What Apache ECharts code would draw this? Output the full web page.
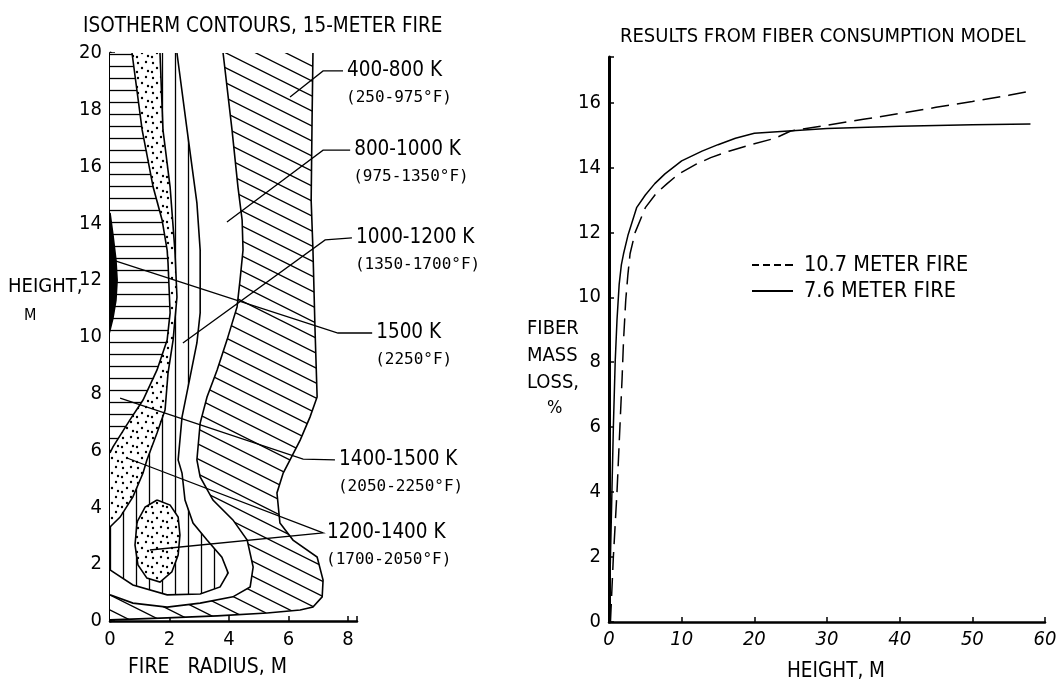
<!DOCTYPE html>
<html>
<head>
<meta charset="utf-8">
<script src="https://cdn.jsdelivr.net/npm/echarts@6.0.0/dist/echarts.min.js"></script>
<style>
  html, body { margin: 0; padding: 0; background: #fff; }
  #main { width: 1060px; height: 689px; }
</style>
</head>
<body>
<div id="main"></div>
<script>
const FONT = "'DejaVu Sans Condensed', 'Liberation Sans Narrow', sans-serif";
const MONO = "'DejaVu Sans Mono', monospace";

// ---- left panel: isotherm boundaries, [radius m, height m] ----
const edge400 = [[6.82,20],[6.79,17.64],[6.76,14.8],[6.82,13.06],[6.89,10.25],[6.96,7.89],[6.72,7.18],[6.39,6.37],[6.05,5.67],[5.82,5.21],[5.61,4.51],[5.71,3.45],[6.15,2.85],[6.96,2.25],[7.16,1.44],[7.13,0.85],[6.82,0.49],[6.39,0.39],[5.28,0.28],[3.6,0.18],[1.92,0.11],[0,0.04]];
const edge800 = [[3.8,20],[4.1,17.29],[4.3,15.28],[4.44,14.12],[4.47,13.06],[4.37,12.01],[4.27,11.06],[3.93,9.89],[3.6,8.84],[3.26,7.89],[3.03,6.97],[2.92,5.67],[3.03,5.07],[3.46,4.26],[4.13,3.56],[4.61,2.85],[4.81,1.9],[4.71,1.2],[4.13,0.85],[3.03,0.63],[1.92,0.49],[0.77,0.63],[0,0.92]];
const edge1000 = [[2.25,20],[2.59,17.29],[2.92,14.72],[3.03,13.06],[3.03,10.85],[2.92,9.79],[2.69,8.59],[2.42,7.18],[2.29,5.67],[2.42,5.21],[2.52,4.26],[2.79,3.45],[3.26,2.85],[3.76,2.25],[3.97,1.69],[3.7,1.2],[3.03,0.95],[1.92,0.92],[0.77,1.27],[0,1.8]];
const oval1200 = [[1.58,4.26],[2.02,4.08],[2.29,3.66],[2.35,3.03],[2.29,2.32],[2.08,1.73],[1.68,1.37],[1.24,1.51],[0.94,1.97],[0.84,2.68],[0.91,3.49],[1.18,4.01]];
const edge1200 = [[1.68,20],[1.78,17.29],[2.02,15.28],[2.18,13.06],[2.25,11.41],[2.12,9.89],[1.95,8.73],[1.85,7.43],[1.58,6.62],[1.24,5.67],[1.11,5.21],[0.77,4.37],[0.34,3.66],[0,3.31]];
const edge1400 = [[0.74,20],[1.08,17.29],[1.45,15.28],[1.75,14.12],[1.92,13.06],[1.95,12.61],[2.02,10.85],[1.92,9.89],[1.58,8.84],[1.11,7.78],[0.67,7.08],[0.1,6.13],[0,5.92]];
const edge1500 = [[0,14.37],[0.1,13.59],[0.2,12.71],[0.24,12.01],[0.2,11.3],[0.1,10.67],[0,10.25]];

// leader lines: first point is where the label sits
const leaderPts = [
  [[7.83,19.37],[7.16,19.37],[6.05,18.45]],
  [[8.07,16.58],[7.16,16.58],[3.93,14.05]],
  [[8.13,13.49],[7.23,13.42],[2.45,9.79]],
  [[8.81,10.14],[7.66,10.14],[0.1,12.71]],
  [[7.56,5.67],[6.49,5.7],[0.34,7.85]],
  [[7.16,3.1],[0.57,5.74],[7.16,3.1],[1.34,2.5]]
];
const leaderK = ['400-800 K', '800-1000 K', '1000-1200 K', '1500 K', '1400-1500 K', '1200-1400 K'];
const leaderF = ['(250-975°F)', '(975-1350°F)', '(1350-1700°F)', '(2250°F)', '(2050-2250°F)', '(1700-2050°F)'];

// ---- right panel: fiber mass loss %, [height m, loss %] ----
const fire107 = [[0.2,0],[0.6,2],[1.1,4],[1.5,6],[1.8,7.5],[2.0,8.67],[2.3,9.9],[2.6,10.7],[2.9,11.34],[3.6,12.0],[5.0,12.76],[6.5,13.2],[8,13.5],[9.6,13.8],[12,14.1],[14,14.3],[16.5,14.5],[19.5,14.7],[22.9,14.9],[25,15.12],[30,15.3],[35,15.48],[40,15.66],[45,15.85],[50,16.03],[55,16.22],[58,16.35]];
const fire76 = [[0,0],[0.2,2],[0.4,4],[0.6,6],[0.85,8],[1.1,9.3],[1.4,10.4],[1.7,11.0],[2.0,11.34],[2.6,11.9],[3.8,12.76],[5,13.15],[6.3,13.5],[7.7,13.8],[10,14.2],[12.8,14.5],[15,14.7],[17.4,14.9],[20,15.05],[24.7,15.12],[30,15.2],[40,15.27],[50,15.31],[58,15.34]];

function pattern(w, h, draw) {
  const c = document.createElement('canvas');
  c.width = w; c.height = h;
  const g = c.getContext('2d');
  g.fillStyle = '#fff'; g.fillRect(0, 0, w, h);
  g.strokeStyle = '#000'; g.fillStyle = '#000'; g.lineWidth = 1.3;
  draw(g);
  return { image: c, repeat: 'repeat' };
}
const hatchDiag = pattern(30, 15, g => {
  [-15, 0, 15].forEach(o => { g.beginPath(); g.moveTo(-30, -15 + o); g.lineTo(60, 30 + o); g.stroke(); });
});
const hatchVert = pattern(13, 10, g => { g.beginPath(); g.moveTo(6.5, 0); g.lineTo(6.5, 10); g.stroke(); });
const hatchHoriz = pattern(10, 12, g => { g.beginPath(); g.moveTo(0, 6.5); g.lineTo(10, 6.5); g.stroke(); });
const dots = pattern(15, 15, g => {
  [[3,3],[11,2],[7,8],[13,11],[2,12]].forEach(p => { g.beginPath(); g.arc(p[0], p[1], 1.2, 0, Math.PI * 2); g.fill(); });
});

const layers = [
  { pts: edge400, fill: hatchDiag },
  { pts: edge800, fill: '#fff' },
  { pts: edge1000, fill: hatchVert },
  { pts: oval1200, fill: dots, closed: true },
  { pts: edge1200, fill: dots },
  { pts: edge1400, fill: hatchHoriz },
  { pts: edge1500, fill: '#000', closed: true }
];

const evenLabel = step => v => (Math.abs(v % step) < 1e-9 ? String(v) : '');
const axisBase = {
  type: 'value',
  splitLine: { show: false },
  axisLine: { lineStyle: { color: '#000', width: 2.5 } },
  axisTick: { inside: true, length: 5, lineStyle: { color: '#000', width: 1.5 } },
  axisLabel: { color: '#000', fontSize: 20, fontFamily: FONT }
};

const chart = echarts.init(document.getElementById('main'));
chart.setOption({
  backgroundColor: '#fff',
  animation: false,
  title: [
    { text: 'ISOTHERM CONTOURS, 15-METER FIRE', left: 78, top: 11,
      textStyle: { fontSize: 20.5, fontWeight: 'normal', fontFamily: FONT, color: '#000' } },
    { text: 'RESULTS FROM FIBER CONSUMPTION MODEL', left: 615, top: 22,
      textStyle: { fontSize: 20, fontWeight: 'normal', fontFamily: FONT, color: '#000' } }
  ],
  grid: [
    { left: 110, top: 53, width: 247, height: 568 },
    { left: 609, top: 57, width: 436, height: 565 }
  ],
  xAxis: [
    Object.assign({}, axisBase, { gridIndex: 0, min: 0, max: 8.3, interval: 2,
      axisLabel: Object.assign({}, axisBase.axisLabel, { margin: 9, formatter: evenLabel(2) }) }),
    Object.assign({}, axisBase, { gridIndex: 1, min: 0, max: 60, interval: 10,
      axisLabel: Object.assign({}, axisBase.axisLabel, { margin: 8, fontStyle: 'italic', formatter: evenLabel(10) }) })
  ],
  yAxis: [
    Object.assign({}, axisBase, { gridIndex: 0, min: 0, max: 20, interval: 2,
      axisLine: { lineStyle: { color: '#000', width: 3 } },
      axisLabel: Object.assign({}, axisBase.axisLabel, { margin: 8, formatter: evenLabel(2) }) }),
    Object.assign({}, axisBase, { gridIndex: 1, min: 0, max: 17.4, interval: 2,
      axisLine: { lineStyle: { color: '#000', width: 3 } },
      axisLabel: Object.assign({}, axisBase.axisLabel, { margin: 8, formatter: evenLabel(2) }) })
  ],
  legend: {
    orient: 'vertical', left: 747, top: 249, itemWidth: 41, itemHeight: 2, itemGap: 4,
    textStyle: { fontSize: 21.5, fontFamily: FONT, color: '#000', padding: [0, 0, 0, 6] },
    data: [
      { name: '10.7 METER FIRE', icon: 'path://M0,0H7V2H0Z M11,0H18V2H11Z M22,0H29V2H22Z M33,0H41V2H33Z' },
      { name: '7.6 METER FIRE', icon: 'path://M0,0H41V2H0Z' }
    ]
  },
  graphic: [
    { type: 'text', left: 8, top: 277, style: { text: 'HEIGHT,', fontSize: 20, fontFamily: FONT, fill: '#000' } },
    { type: 'text', left: 24, top: 308, style: { text: 'M', fontSize: 16, fontFamily: FONT, fill: '#000' } },
    { type: 'text', left: 128, top: 657, style: { text: 'FIRE   RADIUS, M', fontSize: 21, fontFamily: FONT, fill: '#000' } },
    { type: 'text', left: 527, top: 315, style: { text: 'FIBER\nMASS\nLOSS,', fontSize: 20, lineHeight: 27, fontFamily: FONT, fill: '#000' } },
    { type: 'text', left: 547, top: 399, style: { text: '%', fontSize: 18, fontFamily: FONT, fill: '#000' } },
    { type: 'text', left: 787, top: 661, style: { text: 'HEIGHT, M', fontSize: 20.5, fontFamily: FONT, fill: '#000' } }
  ],
  series: [
    {
      type: 'custom', xAxisIndex: 0, yAxisIndex: 0, z: 2,
      data: layers.map((l, i) => [i]),
      renderItem: (params, api) => {
        const L = layers[params.dataIndex];
        const poly = (L.closed ? L.pts : [[0, 20]].concat(L.pts)).map(p => api.coord(p));
        const edge = L.pts.map(p => api.coord(p));
        if (L.closed) edge.push(edge[0]);
        return { type: 'group', children: [
          { type: 'polygon', shape: { points: poly }, style: { fill: L.fill, stroke: null } },
          { type: 'polyline', shape: { points: edge }, style: { fill: null, stroke: '#000', lineWidth: 1.6 } }
        ] };
      }
    },
    {
      type: 'custom', xAxisIndex: 0, yAxisIndex: 0, z: 3,
      data: leaderPts.map((l, i) => [i]),
      renderItem: (params, api) => {
        const i = params.dataIndex;
        const pts = leaderPts[i].map(p => api.coord(p));
        const a = pts[0];
        return { type: 'group', children: [
          { type: 'polyline', shape: { points: pts }, style: { fill: null, stroke: '#000', lineWidth: 1.3 } },
          { type: 'text', style: { text: leaderK[i], x: a[0] + 4, y: a[1], fontSize: 20.5, fontFamily: FONT, fill: '#000', verticalAlign: 'middle' } },
          { type: 'text', style: { text: leaderF[i], x: a[0] + 3, y: a[1] + 27, fontSize: 16, fontFamily: MONO, fill: '#000', verticalAlign: 'middle' } }
        ] };
      }
    },
    {
      name: '10.7 METER FIRE', type: 'line', xAxisIndex: 1, yAxisIndex: 1,
      data: fire107, symbol: 'none', showSymbol: false,
      lineStyle: { color: '#000', width: 1.5, type: [18, 8] }, itemStyle: { color: '#000' }
    },
    {
      name: '7.6 METER FIRE', type: 'line', xAxisIndex: 1, yAxisIndex: 1,
      data: fire76, symbol: 'none', showSymbol: false,
      lineStyle: { color: '#000', width: 1.5 }, itemStyle: { color: '#000' }
    }
  ]
});
</script>
</body>
</html>
